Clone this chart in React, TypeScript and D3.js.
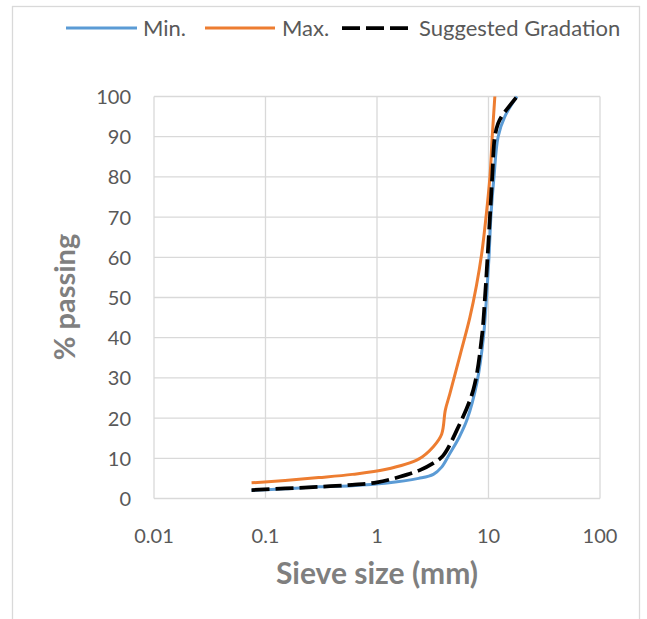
import * as d3 from 'd3';

const X_TICKS = [0.01, 0.1, 1, 10, 100];
const X_TICK_LABELS = ['0.01', '0.1', '1', '10', '100'];
const Y_TICKS = [0, 10, 20, 30, 40, 50, 60, 70, 80, 90, 100];

// sieve size (mm) / % passing
const MIN_SIZE = [0.075, 0.15, 0.3, 0.6, 1.18, 2.36, 3.2, 3.8, 4.5, 5.4, 6.4, 7.9, 9.0, 9.6, 10.1, 10.5, 11.2, 12.2, 14.0, 18.0];
const MIN_PASS = [2.0, 2.4, 2.9, 3.2, 3.8, 5.0, 6.0, 7.8, 11.2, 15, 19.5, 29, 40, 50, 60, 70, 80, 90, 95, 100];

const MAX_SIZE = [0.075, 0.15, 0.3, 0.6, 1.18, 2.36, 3.2, 3.8, 4.1, 4.5, 5.6, 6.8, 7.8, 8.7, 9.5, 10.3, 10.8, 11.4];
const MAX_PASS = [3.9, 4.5, 5.2, 6.0, 7.2, 9.8, 12.9, 16, 22, 26, 36, 45, 53, 61, 70, 80, 90, 100];

const SUG_SIZE = [0.075, 0.15, 0.3, 0.6, 1.0, 1.6, 2.4, 3.2, 3.9, 5.2, 7.3, 8.7, 9.3, 9.8, 10.3, 10.8, 11.4, 12.2, 13.1, 18.0];
const SUG_PASS = [2.1, 2.5, 2.9, 3.4, 4.0, 5.4, 7.0, 8.8, 10.6, 17, 27, 40, 50, 60, 70, 80, 90, 93.3, 95, 100];

const SERIES = [
  { name: 'Min.', sizes: MIN_SIZE, pass: MIN_PASS, color: '#5b9bd5', dash: undefined as string | undefined, width: 3 },
  { name: 'Max.', sizes: MAX_SIZE, pass: MAX_PASS, color: '#ed7d31', dash: undefined as string | undefined, width: 3 },
  { name: 'Suggested Gradation', sizes: SUG_SIZE, pass: SUG_PASS, color: '#000000', dash: '18 6', width: 3.75 },
];

const W = 647;
const H = 619;
const FONT = 'Lato, "Open Sans", sans-serif';

export default function App() {
  const x = d3.scaleLog().domain([0.01, 100]).range([154, 600]);
  const y = d3.scaleLinear().domain([0, 100]).range([498.5, 96.5]);

  const line = d3.line<[number, number]>()
    .x(d => x(d[0]))
    .y(d => y(d[1]))
    .curve(d3.curveCatmullRom.alpha(0.5));

  // legend layout: line start, line end, text x
  const legend = [
    { x1: 66, x2: 137, tx: 143 },
    { x1: 205, x2: 275, tx: 282 },
    { x1: 342, x2: 413, tx: 419 },
  ];

  return (
    <svg width={W} height={H} style={{ position: 'fixed', left: 0, top: 0, fontFamily: FONT, background: '#fff' }}>
      <rect x={12.5} y={6.5} width={627} height={660} fill="#fff" stroke="#d9d9d9" strokeWidth={1.3} />

      {/* gridlines */}
      {Y_TICKS.map(t => (
        <line key={'gy' + t} x1={x(0.01)} x2={x(100)} y1={y(t)} y2={y(t)} stroke="#d9d9d9" strokeWidth={1.3} />
      ))}
      {X_TICKS.map(t => (
        <line key={'gx' + t} x1={x(t)} x2={x(t)} y1={y(0)} y2={y(100)} stroke="#d9d9d9" strokeWidth={1.3} />
      ))}

      {/* tick labels */}
      {Y_TICKS.map(t => (
        <text key={'ly' + t} x={131} y={y(t) + 7.5} textAnchor="end" fontSize={20} fill="#595959">{t}</text>
      ))}
      {X_TICKS.map((t, i) => (
        <text key={'lx' + t} x={x(t)} y={543} textAnchor="middle" fontSize={20} fill="#595959">{X_TICK_LABELS[i]}</text>
      ))}

      {/* axis titles */}
      <text x={377} y={584} textAnchor="middle" fontSize={30} fontWeight={700} fill="#7f7f7f">Sieve size (mm)</text>
      <text transform="translate(75,297) rotate(-90)" textAnchor="middle" fontSize={29} fontWeight={700} fill="#7f7f7f">% passing</text>

      {/* series */}
      {SERIES.map(s => (
        <path
          key={s.name}
          d={line(s.sizes.map((v, i) => [v, s.pass[i]] as [number, number])) ?? ''}
          fill="none"
          stroke={s.color}
          strokeWidth={s.width}
          strokeDasharray={s.dash}
          strokeLinejoin="round"
        />
      ))}

      {/* legend */}
      {SERIES.map((s, i) => (
        <g key={'lg' + s.name}>
          <line x1={legend[i].x1} x2={legend[i].x2} y1={28} y2={28} stroke={s.color} strokeWidth={s.width} strokeDasharray={s.dash} />
          <text x={legend[i].tx} y={35.5} fontSize={22} fill="#595959">{s.name}</text>
        </g>
      ))}
    </svg>
  );
}
